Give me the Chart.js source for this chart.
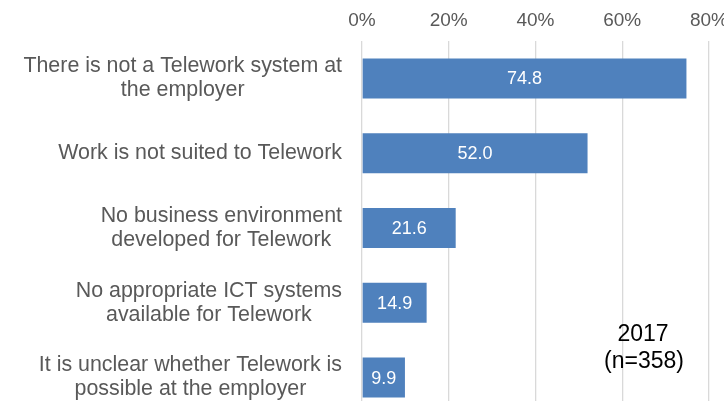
<!DOCTYPE html>
<html>
<head>
<meta charset="utf-8">
<script src="https://cdn.jsdelivr.net/npm/chart.js@4.4.1/dist/chart.umd.min.js"></script>
<style>
  html, body { margin: 0; padding: 0; background: #fff; overflow: hidden; }
  #wrap { position: relative; width: 724px; height: 415px; }
</style>
</head>
<body>
<div id="wrap"><canvas id="chart"></canvas></div>
<script>
// Reasons for not teleworking, share of respondents (%)
const categories = [
  ['There is not a Telework system at', 'the employer'],
  ['Work is not suited to Telework'],
  ['No business environment', 'developed for Telework'],
  ['No appropriate ICT systems', 'available for Telework'],
  ['It is unclear whether Telework is', 'possible at the employer']
];
const values = [74.8, 52.0, 21.6, 14.9, 9.9];
const tickMax = 80;
const tickStep = 20;
const noteLines = ['2017', '(n=358)'];

const FONT = '"Liberation Sans", Arial, sans-serif';

// category labels: right-aligned block, lines centred within it
const categoryLabels = {
    id: 'categoryLabels',
    afterDraw(chart) {
        const ctx = chart.ctx;
        const y = chart.scales.y;
        const right = 342;
        const lh = 24;
        ctx.save();
        ctx.font = '21.4px ' + FONT;
        ctx.fillStyle = '#595959';
        ctx.textAlign = 'center';
        ctx.textBaseline = 'middle';
        categories.forEach((lines, i) => {
            const w = Math.max(...lines.map(l => ctx.measureText(l).width));
            const cx = right - w / 2;
            const cy = y.getPixelForValue(i);
            const top = cy - (lines.length - 1) * lh / 2;
            lines.forEach((l, j) => ctx.fillText(l, cx, top + j * lh));
        });
        ctx.restore();
    }
};

// values written inside the bars + sample note
const valueLabels = {
    id: 'valueLabels',
    afterDatasetsDraw(chart) {
        const ctx = chart.ctx;
        const meta = chart.getDatasetMeta(0);
        ctx.save();
        ctx.font = '18px ' + FONT;
        ctx.fillStyle = '#ffffff';
        ctx.textAlign = 'center';
        ctx.textBaseline = 'middle';
        meta.data.forEach((bar, i) => {
            const x0 = bar.base;
            ctx.fillText(values[i].toFixed(1), (x0 + bar.x) / 2, bar.y + 1);
        });

        ctx.font = '23px ' + FONT;
        ctx.fillStyle = '#000000';
        ctx.fillText(noteLines[0], 643, 335);
        ctx.fillText(noteLines[1], 644, 362);
        ctx.restore();
    }
};

new Chart(document.getElementById('chart'), {
    type: 'bar',
    data: {
        labels: categories,
        datasets: [{
            data: values,
            backgroundColor: '#4f81bd',
            borderWidth: 0,
            barPercentage: 0.535,
            categoryPercentage: 1
        }]
    },
    options: {
        indexAxis: 'y',
        responsive: true,
        maintainAspectRatio: false,
        animation: false,
        layout: { padding: { top: 0, right: 15, bottom: 0, left: 0 } },
        plugins: {
            legend: { display: false },
            tooltip: { enabled: false }
        },
        scales: {
            x: {
                position: 'top',
                min: 0,
                max: tickMax,
                ticks: {
                    stepSize: tickStep,
                    padding: 9,
                    color: '#595959',
                    font: { family: FONT, size: 19 },
                    callback: v => v + '%'
                },
                grid: { color: '#d9d9d9', lineWidth: 1.3, drawTicks: false },
                border: { display: false },
                afterFit(scale) {
                    scale.height = 41;
                    scale.paddingLeft = 0;
                    scale.paddingRight = 0;
                }
            },
            y: {
                ticks: { display: false },
                grid: { display: false },
                border: { display: false },
                afterFit(scale) {
                    scale.width = 362;
                }
            }
        }
    },
    plugins: [categoryLabels, valueLabels]
});
</script>
</body>
</html>
